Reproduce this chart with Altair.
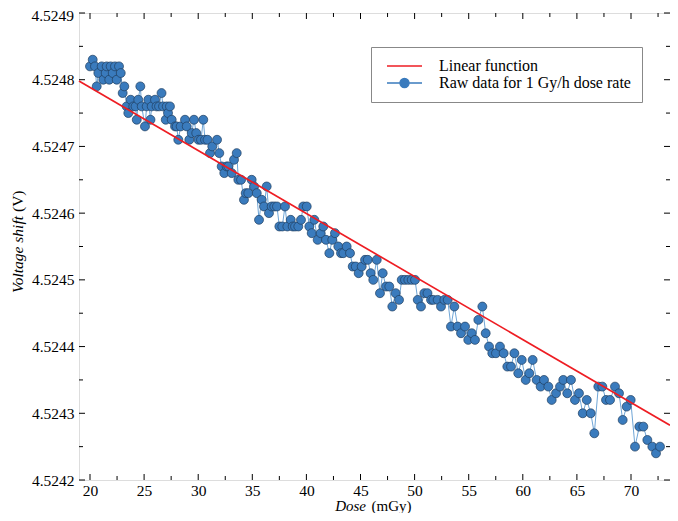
import altair as alt
import pandas as pd

# ---------------- data ----------------
dose = [
    20.00, 20.25, 20.46, 20.62, 20.77, 21.08, 21.23, 21.45, 21.54, 21.78,
    21.91, 22.10, 22.31, 22.47, 22.68, 22.84, 23.02, 23.17, 23.39, 23.54,
    23.76, 24.00, 24.21, 24.32, 24.46, 24.65, 24.78, 25.08, 25.24, 25.39,
    25.59, 25.70, 26.01, 26.15, 26.38, 26.61, 26.75, 27.00, 27.09, 27.21,
    27.39, 27.55, 27.86, 28.01, 28.16, 28.38, 28.78, 28.94, 29.18, 29.40,
    29.61, 29.82, 30.03,
    30.26, 30.47, 30.63, 30.86, 31.09, 31.30, 31.74, 31.95, 32.17, 32.41,
    32.63, 32.78, 33.10, 33.31, 33.56, 33.71, 33.96, 34.23, 34.39, 34.63,
    34.94, 35.16, 35.41, 35.62, 35.87, 36.08, 36.33, 36.54, 36.79, 37.03,
    37.28, 37.50, 37.77, 38.02, 38.24, 38.55, 38.73, 38.95, 39.25, 39.50,
    39.71, 40.03, 40.27,
    40.49, 40.73, 41.04, 41.32, 41.56, 41.81, 42.12, 42.39, 42.64, 42.95,
    43.20, 43.41, 43.72, 44.03, 44.28, 44.56, 44.83, 45.11, 45.42, 45.67,
    45.94, 46.18, 46.50, 46.80, 47.05, 47.36, 47.66, 47.94, 48.25, 48.56,
    48.81, 49.11, 49.42, 49.73, 50.04, 50.29, 50.59, 50.90, 51.19,
    51.52, 51.73, 52.13, 52.44, 52.75, 53.06, 53.36, 53.67, 53.98, 54.29,
    54.66, 54.96, 55.28, 55.58, 55.89, 56.26, 56.57, 56.88, 57.18, 57.52,
    57.89, 58.23, 58.57, 58.91, 59.22, 59.58, 59.90, 60.27, 60.60, 60.91,
    61.28, 61.65,
    61.96, 62.36, 62.67, 63.07, 63.44, 63.74, 64.11, 64.45, 64.82, 65.19,
    65.54, 65.91, 66.28, 66.61, 66.98, 67.35, 67.69, 68.06, 68.52, 68.89,
    69.23, 69.60, 69.97, 70.37, 70.77, 71.14, 71.51, 71.97, 72.31, 72.68,
]

voltage = [
    4.52482, 4.52483, 4.52482, 4.52479, 4.52481, 4.52482, 4.52480, 4.52481, 4.52482, 4.52480,
    4.52482, 4.52481, 4.52482, 4.52480, 4.52482, 4.52481, 4.52478, 4.52479, 4.52476, 4.52475,
    4.52477, 4.52476, 4.52476, 4.52474, 4.52477, 4.52479, 4.52476, 4.52473, 4.52476, 4.52477,
    4.52474, 4.52476, 4.52477, 4.52476, 4.52476, 4.52478, 4.52476, 4.52474, 4.52476, 4.52475,
    4.52476, 4.52474, 4.52473, 4.52473, 4.52471, 4.52473, 4.52474, 4.52473, 4.52471, 4.52472,
    4.52474, 4.52472, 4.52471,
    4.52471, 4.52474, 4.52471, 4.52471, 4.52469, 4.52470, 4.52471, 4.52469, 4.52467, 4.52466,
    4.52467, 4.52467, 4.52466, 4.52468, 4.52469, 4.52465, 4.52465, 4.52462, 4.52463, 4.52463,
    4.52465, 4.52464, 4.52463, 4.52459, 4.52462, 4.52461, 4.52464, 4.52460, 4.52461, 4.52461,
    4.52461, 4.52458, 4.52458, 4.52461, 4.52458, 4.52459, 4.52458, 4.52458, 4.52458, 4.52459,
    4.52461, 4.52461, 4.52458,
    4.52457, 4.52459, 4.52456, 4.52457, 4.52458, 4.52456, 4.52454, 4.52456, 4.52457, 4.52455,
    4.52454, 4.52454, 4.52455, 4.52454, 4.52452, 4.52452, 4.52451, 4.52452, 4.52453, 4.52453,
    4.52451, 4.52450, 4.52453, 4.52448, 4.52451, 4.52449, 4.52449, 4.52446, 4.52448, 4.52447,
    4.52450, 4.52450, 4.52450, 4.52450, 4.52450, 4.52447, 4.52446, 4.52448, 4.52448,
    4.52447, 4.52447, 4.52447, 4.52446, 4.52447, 4.52447, 4.52443, 4.52446, 4.52443, 4.52442,
    4.52443, 4.52441, 4.52442, 4.52441, 4.52444, 4.52446, 4.52442, 4.52440, 4.52439, 4.52439,
    4.52440, 4.52439, 4.52437, 4.52437, 4.52439, 4.52436, 4.52438, 4.52435, 4.52436, 4.52438,
    4.52435, 4.52434,
    4.52435, 4.52434, 4.52432, 4.52433, 4.52434, 4.52435, 4.52433, 4.52435, 4.52432, 4.52433,
    4.52430, 4.52432, 4.52430, 4.52427, 4.52434, 4.52434, 4.52432, 4.52432, 4.52434, 4.52433,
    4.52429, 4.52431, 4.52432, 4.52425, 4.52428, 4.52428, 4.52426, 4.52425, 4.52424, 4.52425,
]

fit_dose = [18.98, 73.6]
fit_voltage = [4.524798, 4.524282]

series_names = ["Linear function", "Raw data for 1 Gy/h dose rate"]

x_domain = [18.983, 73.604]
y_domain = [4.5242, 4.5249]
x_major = [20, 25, 30, 35, 40, 45, 50, 55, 60, 65, 70]
x_minor = [22.5, 27.5, 32.5, 37.5, 42.5, 47.5, 52.5, 57.5, 62.5, 67.5, 72.5]
y_major = [4.5242, 4.5243, 4.5244, 4.5245, 4.5246, 4.5247, 4.5248, 4.5249]
y_minor = [4.52425, 4.52435, 4.52445, 4.52455, 4.52465, 4.52475, 4.52485]
y_top_label = ["4.5249"]

x_title_parts = ["Dose", "(mGy)"]
y_title_parts = ["Voltage shift", "(V)"]

# ---------------- styling ----------------
W, H = 591, 467
SERIF = "Liberation Serif"
RED = "#ee1d23"
BLUE = "#3a7bbd"
EDGE = "#1f3d5e"
LINE_BLUE = "#5f9bd1"

x_scale = alt.Scale(domain=x_domain, nice=False, zero=False)
y_scale = alt.Scale(domain=y_domain, nice=False, zero=False)

raw_df = pd.DataFrame({"dose": dose, "voltage": voltage, "series": series_names[1]})
fit_df = pd.DataFrame({"dose": fit_dose, "voltage": fit_voltage, "series": series_names[0]})

x_axis = alt.Axis(values=x_major, format="d", ticks=False, domain=False, grid=False,
                  labelPadding=3, title=None, labelFlush=False, labelFont=SERIF,
                  labelFontSize=15.5, labelColor="black")
# the top label (4.5249) is drawn separately, nudged down slightly as in the reference
y_axis = alt.Axis(values=y_major[:-1], format=".4f", ticks=False, domain=False, grid=False,
                  labelPadding=5, title=None, labelFlush=False, labelFont=SERIF,
                  labelFontSize=15.5, labelColor="black")

is_lin = "datum.value === 'Linear function'"
legend = alt.Legend(
    title=None, orient="none", legendX=292, legendY=34,
    padding=11, labelOffset=41, rowPadding=1,
    strokeColor="#888888", fillColor="white", cornerRadius=0,
    labelFont=SERIF, labelFontSize=16, labelColor="black", labelLimit=400,
    symbolSize=100, symbolStrokeWidth=1.4, symbolOpacity=1,
    symbolType=alt.ExprRef(expr=is_lin + " ? 'M-0.6,0L6.4,0' : "
                           "'M-0.6,0L2,0M3.8,0L6.4,0M3.8,0A0.9,0.9,0,1,1,2,0A0.9,0.9,0,1,1,3.8,0Z'"),
    symbolStrokeColor=alt.ExprRef(expr=is_lin + " ? '" + RED + "' : '" + BLUE + "'"),
    symbolFillColor=alt.ExprRef(expr=is_lin + " ? 'transparent' : '" + BLUE + "'"),
)

color = alt.Color("series:N",
                  scale=alt.Scale(domain=series_names, range=[RED, BLUE]),
                  legend=legend)

X = lambda f: alt.X(f, scale=x_scale, axis=x_axis)
Y = lambda f: alt.Y(f, scale=y_scale, axis=y_axis)

raw_line = alt.Chart(raw_df).mark_line(color=LINE_BLUE, strokeWidth=0.9).encode(
    x=X("dose:Q"), y=Y("voltage:Q"),
)

points = alt.Chart(raw_df).mark_point(filled=True, size=80, stroke=EDGE, strokeWidth=0.7,
                                      opacity=1).encode(
    x=X("dose:Q"), y=Y("voltage:Q"), color=color,
)

fit_line = alt.Chart(fit_df).mark_line(strokeWidth=1.7).encode(
    x=X("dose:Q"), y=Y("voltage:Q"), color=color,
)


def x_ticks(vals, length):
    df = pd.DataFrame({"v": vals})
    bottom = alt.Chart(df).mark_rule(color="black", strokeWidth=1).encode(
        x=X("v:Q"), y=alt.value(H), y2=alt.value(H - length))
    top = alt.Chart(df).mark_rule(color="black", strokeWidth=1).encode(
        x=X("v:Q"), y=alt.value(0), y2=alt.value(length))
    return [bottom, top]


def y_ticks(vals, length):
    df = pd.DataFrame({"v": vals})
    left = alt.Chart(df).mark_rule(color="black", strokeWidth=1).encode(
        y=Y("v:Q"), x=alt.value(0), x2=alt.value(length))
    right = alt.Chart(df).mark_rule(color="black", strokeWidth=1).encode(
        y=Y("v:Q"), x=alt.value(W), x2=alt.value(W - length))
    return [left, right]


tick_layers = x_ticks(x_major, 6) + x_ticks(x_minor, 4) + y_ticks(y_major, 6) + y_ticks(y_minor, 4)

top_label = alt.Chart(pd.DataFrame({"v": y_major[-1:], "t": y_top_label})).mark_text(
    font=SERIF, fontSize=15.5, align="right", baseline="middle", color="black", dy=3
).encode(y=Y("v:Q"), x=alt.value(-5), text="t:N")

one = pd.DataFrame({"k": [0]})
x_title_a = alt.Chart(one).mark_text(text=x_title_parts[0], font=SERIF, fontSize=15, fontStyle="italic",
                                     align="right", baseline="middle", color="black").encode(
    x=alt.value(287), y=alt.value(H + 25.5))
x_title_b = alt.Chart(one).mark_text(text=x_title_parts[1], font=SERIF, fontSize=15,
                                     align="left", baseline="middle", color="black").encode(
    x=alt.value(292.5), y=alt.value(H + 25.5))
y_title_a = alt.Chart(one).mark_text(text=y_title_parts[0], font=SERIF, fontSize=15.5, fontStyle="italic",
                                     angle=270, align="right", baseline="middle", color="black").encode(
    x=alt.value(-61), y=alt.value(203))
y_title_b = alt.Chart(one).mark_text(text=y_title_parts[1], font=SERIF, fontSize=15.5,
                                     angle=270, align="left", baseline="middle", color="black").encode(
    x=alt.value(-61), y=alt.value(199))

chart = alt.layer(
    raw_line, points, fit_line, *tick_layers, top_label,
    x_title_a, x_title_b, y_title_a, y_title_b
).properties(
    width=W, height=H,
    autosize=alt.AutoSizeParams(type="none"),
    padding={"left": 71, "top": 5, "right": 0, "bottom": 33},
).configure_view(
    stroke="black", strokeWidth=1.2
).configure(background="white")

chart.save("out.html", embed_options={"renderer": "svg", "actions": False})
